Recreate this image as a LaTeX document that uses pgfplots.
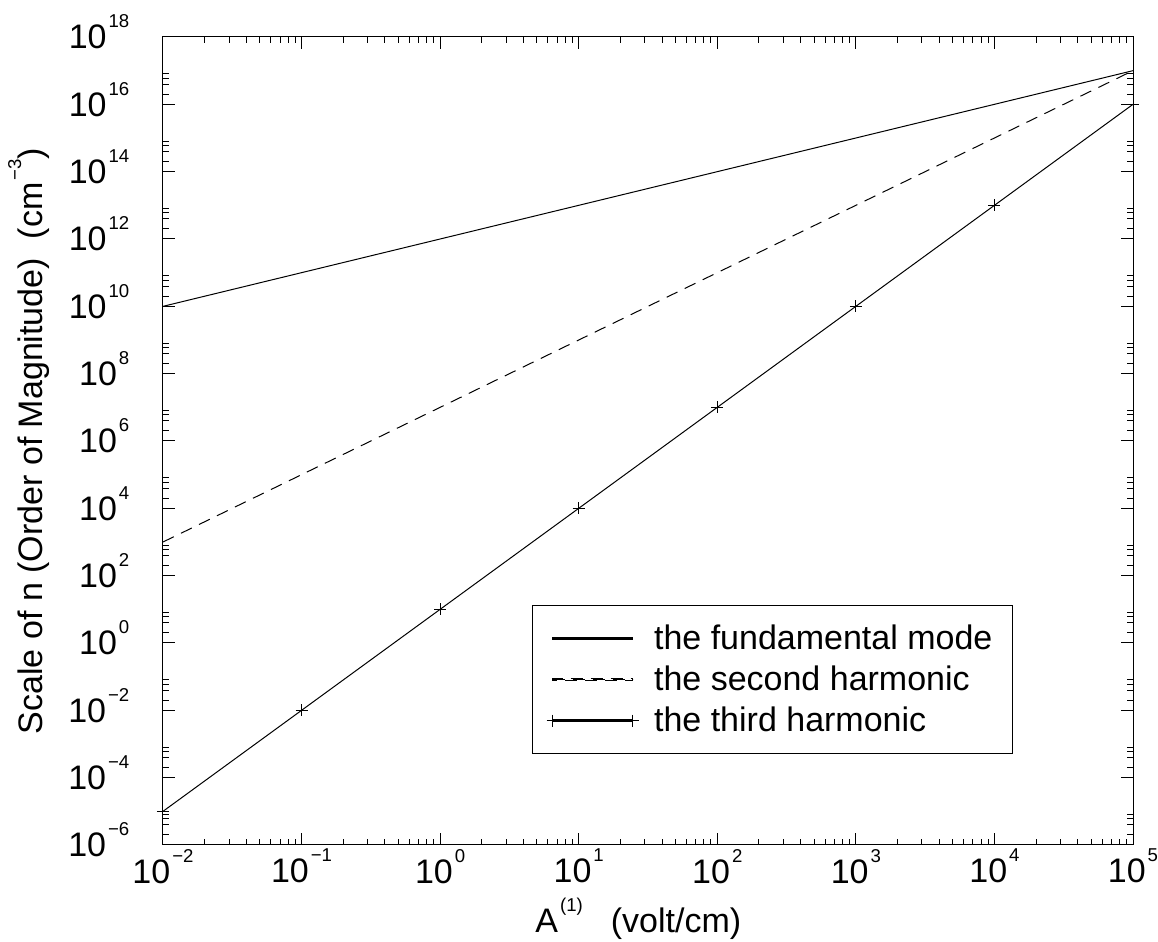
\documentclass[border=0pt]{standalone}
\usepackage{fontspec}
\setmainfont{Liberation Sans}
\usepackage{pgfplots}
\pgfplotsset{compat=1.18}
\newcommand{\sps}[1]{\hspace{1pt}\raisebox{10.5pt}{\fontsize{9.3}{10}\selectfont #1}}
\begin{document}
\begin{tikzpicture}
\useasboundingbox (-81.5pt,-48.5pt) rectangle (497.5pt,422.5pt);
\begin{axis}[
  at={(0,0)}, anchor=south west,
  scale only axis, width=485pt, height=404pt,
  xmode=log, ymode=log, log basis x=10, log basis y=10,
  xmin=1e-2, xmax=1e5, ymin=1e-6, ymax=1e18,
  clip=false,
  axis line style={line width=0.5pt},
  every tick/.style={black, line width=0.5pt},
  tick align=inside, major tick length=6pt, minor tick length=3pt,
  tick label style={font=\fontsize{17}{20}\selectfont},
  label style={font=\fontsize{17}{20}\selectfont},
  xtick={1e-2,1e-1,1,1e1,1e2,1e3,1e4,1e5},
  xticklabels={10\sps{−2},10\sps{−1},10\sps{0},10\sps{1},10\sps{2},10\sps{3},10\sps{4},10\sps{5}},
  minor xtick={0.02,0.03,0.04,0.05,0.06,0.07,0.08,0.09,
    0.2,0.3,0.4,0.5,0.6,0.7,0.8,0.9,
    2,3,4,5,6,7,8,9,
    20,30,40,50,60,70,80,90,
    200,300,400,500,600,700,800,900,
    2000,3000,4000,5000,6000,7000,8000,9000,
    20000,30000,40000,50000,60000,70000,80000,90000},
  ytick={1e-6,1e-4,1e-2,1,1e2,1e4,1e6,1e8,1e10,1e12,1e14,1e16,1e18},
  yticklabels={10\sps{−6},10\sps{−4},10\sps{−2},10\sps{0},10\sps{2},10\sps{4},10\sps{6},10\sps{8},10\sps{10},10\sps{12},10\sps{14},10\sps{16},10\sps{18}},
  minor ytick={2e-6,4e-6,6e-6,8e-6, 2e-4,4e-4,6e-4,8e-4, 2e-2,4e-2,6e-2,8e-2,
    2,4,6,8, 2e2,4e2,6e2,8e2, 2e4,4e4,6e4,8e4, 2e6,4e6,6e6,8e6,
    2e8,4e8,6e8,8e8, 2e10,4e10,6e10,8e10, 2e12,4e12,6e12,8e12,
    2e14,4e14,6e14,8e14, 2e16,4e16,6e16,8e16},
  xticklabel style={anchor=north, yshift=1.5pt},
  yticklabel style={anchor=base east, xshift=-13.3pt, yshift=-6pt},
  xlabel={A\sps{(1)}\hspace{14pt}(volt/cm)},
  ylabel={Scale of n (Order of Magnitude)\ \ (cm\sps{−3})},
  xlabel style={at={(axis description cs:0.49,-0.1089)}, anchor=base},
  ylabel style={at={(axis description cs:-0.1247,0.5)}, anchor=base},
  legend style={at={(axis description cs:0.380,0.297)}, anchor=north west,
    draw=black, line width=0.5pt, inner xsep=10pt, inner ysep=10pt,
    row sep=7.3pt, column sep=10.5pt,
    font=\fontsize{17}{20}\selectfont,
    nodes={inner sep=0pt, text height=12.2pt, text depth=1pt}},
  legend cell align=left,
  legend image code/.code={\path (0pt,-0.5pt) rectangle (40pt,0.5pt);
    \draw[overlay, mark repeat=1, mark phase=1, #1] plot coordinates {(0pt,0pt) (40pt,0pt)};},
]
\addplot[black, line width=0.5pt, mark=none] coordinates {
  (1e-2,1e10) (1e-1,1e11) (1,1e12) (1e1,1e13) (1e2,1e14) (1e3,1e15) (1e4,1e16) (1e5,1e17)};
\addlegendentry{the fundamental mode}
\addplot[black, line width=0.5pt, mark=none, dash pattern=on 6pt off 4pt] coordinates {
  (1e-2,1e3) (1e-1,1e5) (1,1e7) (1e1,1e9) (1e2,1e11) (1e3,1e13) (1e4,1e15) (1e5,1e17)};
\addlegendentry{the second harmonic}
\addplot[black, line width=0.5pt, mark=+, mark size=3pt, mark options={solid}] coordinates {
  (1e-2,1e-5) (1e-1,1e-2) (1,1e1) (1e1,1e4) (1e2,1e7) (1e3,1e10) (1e4,1e13) (1e5,1e16)};
\addlegendentry{the third harmonic}
\end{axis}
\end{tikzpicture}
\end{document}
